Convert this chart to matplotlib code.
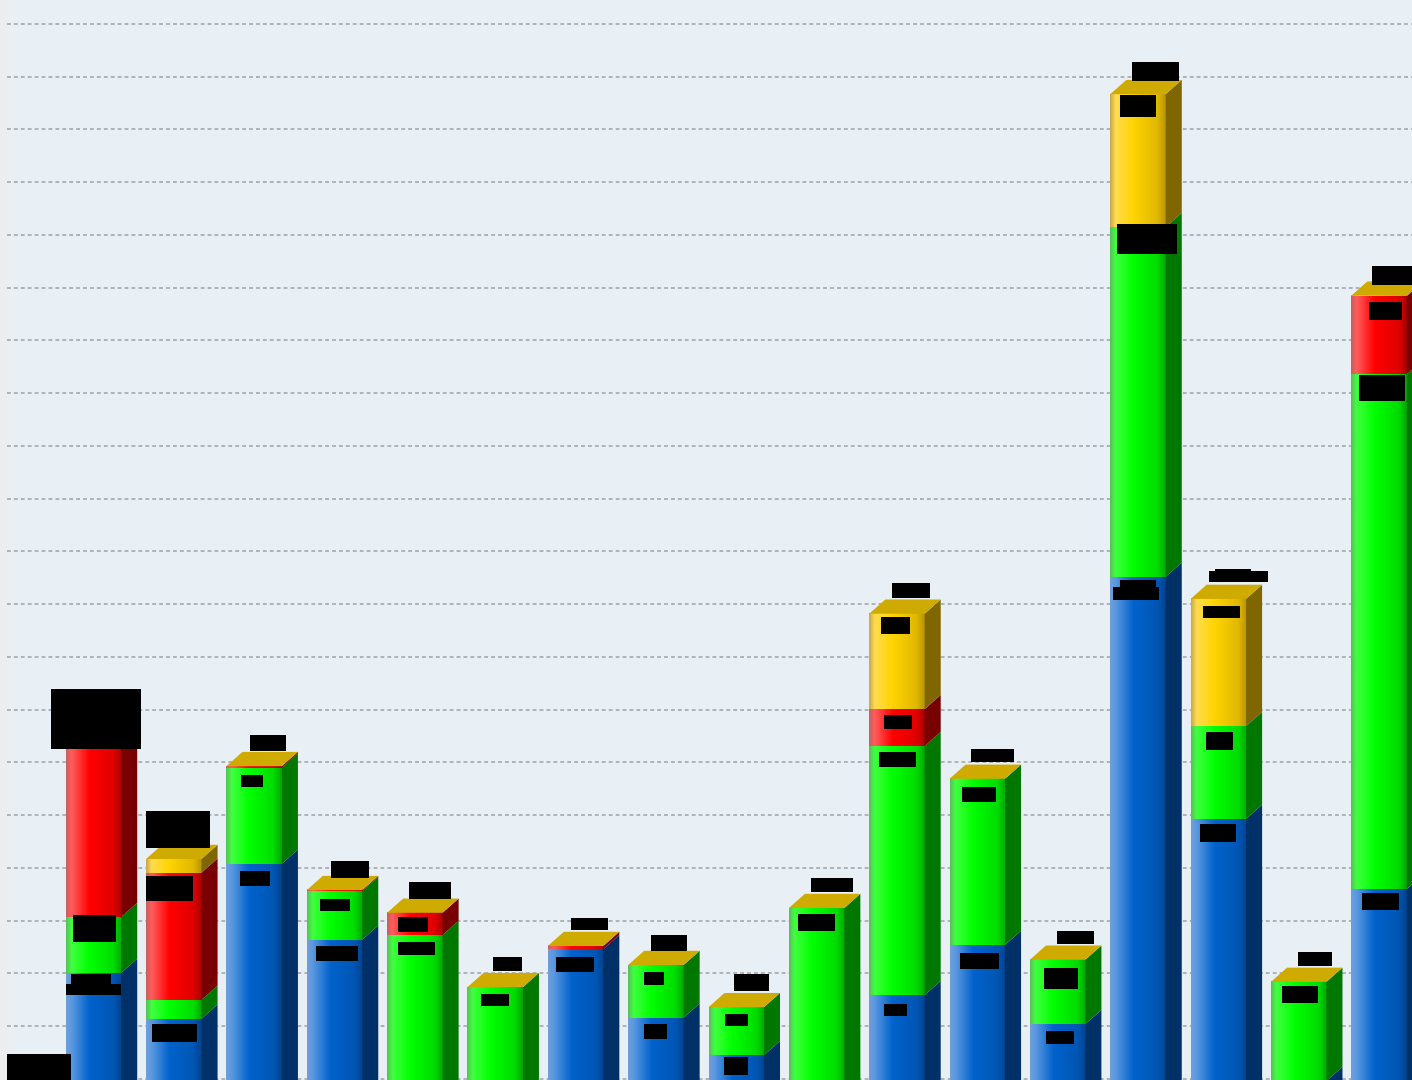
import matplotlib
matplotlib.use("Agg")
import matplotlib.pyplot as plt
import numpy as np
from matplotlib.colors import LinearSegmentedColormap
from matplotlib.patches import Rectangle

# segment heights per bar, bottom to top
azul = [301, 214, 508, 364, 0, 0, 346, 216, 145, 0, 259, 354, 204, 1052, 593, 96, 460]
verde = [106, 36, 182, 92, 373, 274, 0, 100, 91, 424, 472, 315, 122, 663, 176, 188, 976]
rojo = [345, 241, 3, 2, 42, 0, 6, 0, 0, 0, 70, 0, 0, 0, 0, 0, 148]
amarillo = [0, 26, 0, 0, 0, 0, 0, 0, 0, 0, 181, 0, 0, 252, 241, 0, 1]
lineas = list(range(100, 2200, 100))

ANCHO, ALTO = 1412, 1080

# blacked out labels, in pixels (x0, y0, x1, y1)
tapas = [
    (7, 1054, 71, 1080), (51, 689, 141, 749), (73, 915, 116, 942), (71, 974, 111, 985),
    (66, 984, 121, 995), (146, 811, 210, 848), (146, 876, 193, 901), (152, 1024, 197, 1042),
    (250, 735, 286, 751), (241, 775, 263, 787), (240, 871, 270, 886), (331, 861, 369, 878),
    (320, 899, 350, 911), (316, 946, 358, 961), (409, 882, 451, 899), (398, 917, 428, 932),
    (398, 942, 435, 955), (493, 957, 522, 971), (481, 994, 509, 1006), (571, 918, 608, 930),
    (556, 957, 594, 972), (651, 935, 687, 951), (644, 972, 664, 985), (644, 1024, 667, 1039),
    (734, 974, 769, 991), (725, 1014, 748, 1026), (724, 1057, 748, 1075), (811, 878, 853, 892),
    (798, 914, 835, 931), (892, 583, 930, 598), (881, 617, 910, 634), (884, 715, 912, 729),
    (879, 752, 916, 767), (884, 1004, 907, 1016), (971, 749, 1014, 762), (962, 787, 996, 802),
    (960, 953, 999, 969), (1057, 931, 1094, 944), (1044, 968, 1078, 989), (1046, 1031, 1074, 1044),
    (1132, 62, 1179, 81), (1120, 95, 1156, 117), (1117, 224, 1177, 254), (1120, 580, 1156, 590),
    (1113, 587, 1159, 600), (1209, 571, 1268, 582), (1215, 569, 1251, 572), (1203, 606, 1240, 618),
    (1206, 732, 1233, 750), (1200, 824, 1236, 842), (1298, 952, 1332, 966), (1282, 986, 1318, 1003),
    (1372, 266, 1412, 285), (1369, 302, 1402, 320), (1359, 375, 1405, 401), (1362, 893, 1399, 910),
]

# front gradient and side colour of each series
estilos = [
    (["#6f9fd8", "#5a98e0", "#0062cc", "#0056b4", "#00438f"], "#003068"),
    (["#58c058", "#40ff40", "#00ff00", "#00dc00", "#00a800"], "#007800"),
    (["#c86060", "#ff5c5c", "#ff0000", "#e00000", "#a80000"], "#780000"),
    (["#c8a848", "#ffdc50", "#ffd400", "#e0b800", "#b89400"], "#7f6600"),
]
color_tapa = "#cfab00"
paso = 80.35
inicio = 65.7
ancho = 0.69
fondo_x = 0.2
fondo_y = 27

fig = plt.figure(figsize=(ANCHO / 100, ALTO / 100), dpi=100, facecolor="#ededed")
ax = fig.add_axes([7 / ANCHO, 0, 1 - 7 / ANCHO, 1], facecolor="#e8f0f5")

grad = np.linspace(0, 1, 128).reshape(1, -1)
posiciones = [0, 0.1, 0.42, 0.85, 1]

for i in range(len(azul)):
    base = 0
    segmentos = [azul[i], verde[i], rojo[i], amarillo[i]]
    for alto, (colores, lateral) in zip(segmentos, estilos):
        if alto == 0:
            continue
        cmap = LinearSegmentedColormap.from_list("cara", list(zip(posiciones, colores)))
        ax.imshow(grad, extent=[i, i + ancho, base, base + alto], aspect="auto", cmap=cmap,
                  interpolation="bilinear", zorder=3)
        ax.fill([i + ancho, i + ancho + fondo_x, i + ancho + fondo_x, i + ancho],
                [base, base + fondo_y, base + alto + fondo_y, base + alto],
                color=lateral, lw=0, zorder=3)
        base += alto
    ax.fill([i, i + fondo_x, i + ancho + fondo_x, i + ancho],
            [base, base + fondo_y, base + fondo_y, base],
            color=color_tapa, lw=0, zorder=3)

ax.set_xlim((7 - inicio) / paso, (ANCHO - inicio) / paso)
ax.set_ylim(98, 2145.5)
ax.set_yticks(lineas)
ax.set_xticks([])
ax.tick_params(left=False, labelleft=False)
ax.grid(axis="y", color="#a4a8ac", lw=1.2, linestyle=(0, (2.3, 1.85)), zorder=1)
ax.set_axisbelow(True)
for lado in ax.spines.values():
    lado.set_visible(False)

for x0, y0, x1, y1 in tapas:
    fig.add_artist(Rectangle((x0 / ANCHO, 1 - y1 / ALTO), (x1 - x0) / ANCHO, (y1 - y0) / ALTO,
                             transform=fig.transFigure, facecolor="black", edgecolor="none"))

fig.savefig("out.png", dpi=100, facecolor=fig.get_facecolor())
